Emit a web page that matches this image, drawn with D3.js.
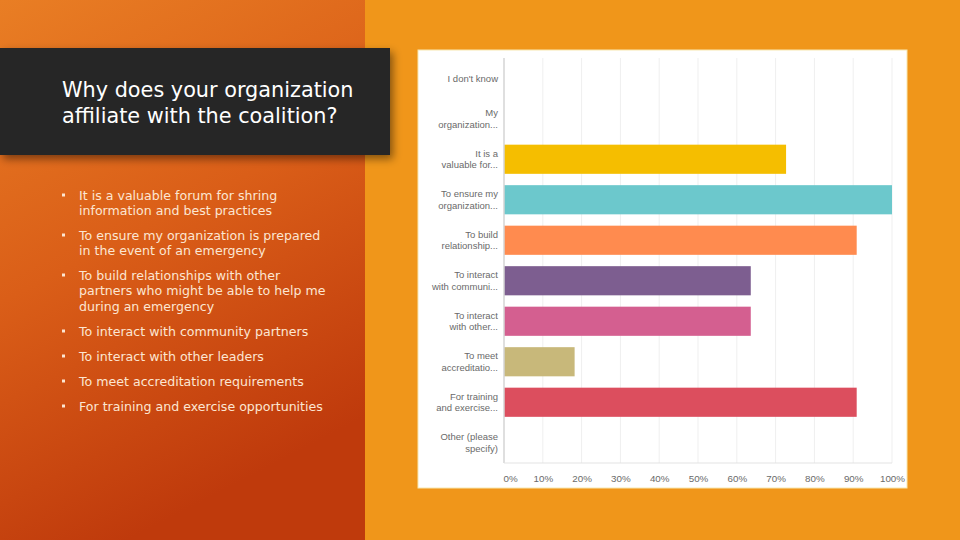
<!DOCTYPE html>
<html><head><meta charset="utf-8">
<script src="https://cdn.jsdelivr.net/npm/d3@7"></script>
<style>html,body{margin:0;padding:0;background:#F0961A;}svg{display:block;}</style>
</head><body>
<script>
const categories = [
  ["I don't know"],
  ["My","organization..."],
  ["It is a","valuable for..."],
  ["To ensure my","organization..."],
  ["To build","relationship..."],
  ["To interact","with communi..."],
  ["To interact","with other..."],
  ["To meet","accreditatio..."],
  ["For training","and exercise..."],
  ["Other (please","specify)"]
];
const values = [0, 0, 72.7, 100, 90.9, 63.6, 63.6, 18.2, 90.9, 0];
const colors = ["#F5BE00","#F5BE00","#F5BE00","#6CC8CC","#FF8B4F","#7D5E90","#D45F90","#C8B87A","#DC4E5E","#DC4E5E"];
const ticks = [0,10,20,30,40,50,60,70,80,90,100];
const title = ["Why does your organization","affiliate with the coalition?"];
const bullets = [
  ["It is a valuable forum for shring","information and best practices"],
  ["To ensure my organization is prepared","in the event of an emergency"],
  ["To build relationships with other","partners who might be able to help me","during an emergency"],
  ["To interact with community partners"],
  ["To interact with other leaders"],
  ["To meet accreditation requirements"],
  ["For training and exercise opportunities"]
];

const W=960,H=540;
const svg=d3.select("body").append("svg").attr("width",W).attr("height",H);
const defs=svg.append("defs");
const g1=defs.append("linearGradient").attr("id","lg").attr("x1","0").attr("y1","0").attr("x2","0.35").attr("y2","1");
g1.append("stop").attr("offset","0").attr("stop-color","#E97E24");
g1.append("stop").attr("offset","0.5").attr("stop-color","#DA5E18");
g1.append("stop").attr("offset","1").attr("stop-color","#BF3A0C");
const f=defs.append("filter").attr("id","sh").attr("x","-10%").attr("y","-10%").attr("width","130%").attr("height","140%");
f.append("feDropShadow").attr("dx",3).attr("dy",4).attr("stdDeviation",4).attr("flood-color","#000").attr("flood-opacity",0.45);

svg.append("rect").attr("width",W).attr("height",H).attr("fill","#F0961A");
svg.append("rect").attr("width",365).attr("height",H).attr("fill","url(#lg)");

// title box
svg.append("rect").attr("x",0).attr("y",48).attr("width",390).attr("height",107).attr("fill","#262626").attr("filter","url(#sh)");
svg.append("g").selectAll("text").data(title).join("text")
  .attr("x",62).attr("y",(d,i)=>97+i*26).attr("fill","#fff")
  .attr("font-family","DejaVu Sans, sans-serif").attr("font-size",20.8).text(d=>d);

// bullets
const bStarts=[195,235,275,331,356,381,406];
const bg=svg.append("g").attr("font-family","DejaVu Sans, sans-serif").attr("font-size",12.6).attr("fill","#FCE6D2");
bullets.forEach((b,i)=>{
  bg.append("rect").attr("x",62).attr("y",bStarts[i]-1.5).attr("width",3).attr("height",3).attr("fill","#FCE6D2");
  b.forEach((l,j)=>bg.append("text").attr("x",79).attr("y",bStarts[i]+4.5+j*15.5).text(l));
});

// chart panel
svg.append("rect").attr("x",418).attr("y",50).attr("width",489).attr("height",438).attr("fill","#fff").attr("stroke","#F7E7B0").attr("stroke-width",1);

const x=d3.scaleLinear().domain([0,100]).range([504,892]);
const y=d3.scaleBand().domain(d3.range(categories.length)).range([58,463]).paddingInner(0.28).paddingOuter(0.14);

const cg=svg.append("g");
cg.selectAll("line.grid").data(ticks.slice(1)).join("line").attr("class","grid")
  .attr("x1",d=>x(d)).attr("x2",d=>x(d)).attr("y1",58).attr("y2",463).attr("stroke","#EFEFEF").attr("stroke-width",1);

cg.selectAll("rect.bar").data(values).join("rect").attr("class","bar")
  .attr("x",x(0)).attr("y",(d,i)=>y(i)).attr("width",d=>x(d)-x(0)).attr("height",y.bandwidth())
  .attr("fill",(d,i)=>colors[i]);

cg.append("line").attr("x1",x(0)).attr("x2",x(0)).attr("y1",58).attr("y2",463).attr("stroke","#D5D5D5").attr("stroke-width",1.5);
cg.append("line").attr("x1",x(0)).attr("x2",x(100)).attr("y1",463).attr("y2",463).attr("stroke","#E3E3E3").attr("stroke-width",1);

const xa=d3.axisBottom(x).tickValues(ticks).tickFormat(d=>d+"%").tickSize(0).tickPadding(0);
const xg=svg.append("g").attr("transform","translate(0,475)").call(xa);
xg.select(".domain").remove();
xg.selectAll("text").attr("fill","#6A6A6A").attr("font-family","Liberation Sans, Arial, sans-serif").attr("font-size",9.8).attr("dy","0.71em");
xg.selectAll(".tick").filter(d=>d===0).select("text").attr("text-anchor","start").attr("dx",-1);

const lg=svg.append("g").attr("font-family","Liberation Sans, Arial, sans-serif").attr("font-size",9.5).attr("fill","#6A6A6A").attr("text-anchor","end");
categories.forEach((c,i)=>{
  const cy=y(i)+y.bandwidth()/2;
  const n=c.length;
  c.forEach((l,j)=>lg.append("text").attr("x",498).attr("y",cy+(j-(n-1)/2)*11.5).attr("dy","0.35em").text(l));
});
</script>
</body></html>
